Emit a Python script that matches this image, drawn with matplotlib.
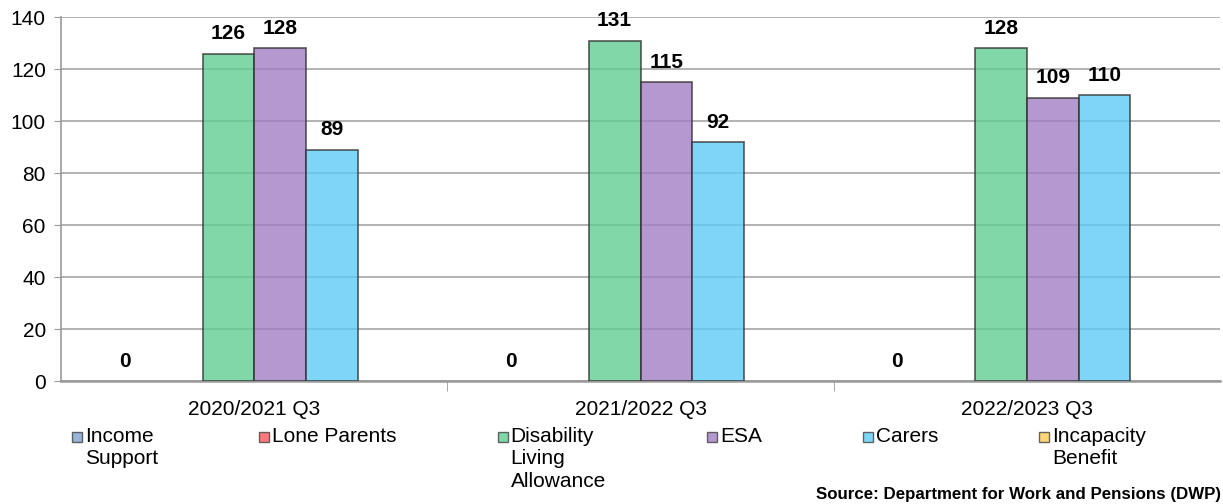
import numpy as np
import matplotlib
matplotlib.use('Agg')
import matplotlib.pyplot as plt
from matplotlib.patches import Rectangle

# Values
periods = ['2020/2021 Q3', '2021/2022 Q3', '2022/2023 Q3']
series = ['Income Support', 'Lone Parents', 'Disability Living Allowance',
          'ESA', 'Carers', 'Incapacity Benefit']
legend_labels = ['Income\nSupport', 'Lone Parents', 'Disability\nLiving\nAllowance',
                 'ESA', 'Carers', 'Incapacity\nBenefit']
income_support = [0, 0, 0]
lone_parents = [None, None, None]
dla = [126, 131, 128]
esa = [128, 115, 109]
carers = [89, 92, 110]
incapacity = [None, None, None]
values = [income_support, lone_parents, dla, esa, carers, incapacity]

# base colours, drawn with alpha so the grid shows through like the original
colors = ['#7FA3D0', '#FF5A5A', '#63CE92', '#A27EC3', '#5FCBF6', '#FFCC55']
alpha = 0.8

plt.rcParams['font.family'] = ['Liberation Sans', 'DejaVu Sans']

fig = plt.figure(figsize=(12.23, 5.04), dpi=100)
ax = fig.add_axes([0.05, 0.244, 0.9475, 0.722])

x = np.arange(len(periods))
width = 0.134
for i, (name, vals) in enumerate(zip(series, values)):
    offs = (i - 2.5) * width
    for xi, v in zip(x, vals):
        if v is None:
            continue
        ax.bar(xi + offs, v, width, color=colors[i], alpha=alpha,
               edgecolor='#303030', linewidth=1.2 if v > 0 else 0, zorder=3)
        ax.text(xi + offs, v + 4, '%d' % v, ha='center', va='bottom',
                fontsize=15, fontweight='bold', zorder=4)

ax.set_xlim(-0.5, 2.5)
ax.set_ylim(0, 140)
ax.set_yticks(range(0, 141, 20))
ax.tick_params(axis='y', labelsize=15, length=5, color='#999999', pad=6)
ax.set_xticks(x)
ax.set_xticklabels(periods, fontsize=15)
ax.tick_params(axis='x', length=0, pad=14)
ax.set_xticks([0.5, 1.5], minor=True)
ax.tick_params(axis='x', which='minor', length=7, color='#999999')
ax.yaxis.grid(True, color='#a6a6a6', linewidth=1.2, zorder=0)
ax.set_axisbelow(True)
for s in ['top', 'right']:
    ax.spines[s].set_visible(False)
ax.spines['left'].set_color('#999999')
ax.spines['bottom'].set_color('#999999')
ax.spines['left'].set_linewidth(1.2)
ax.spines['bottom'].set_linewidth(1.8)

# legend laid out by hand, Excel style (square at first line, wrapped labels)
fig.canvas.draw()
renderer = fig.canvas.get_renderer()
W, H = fig.get_size_inches() * fig.dpi
xpos = 72
ytop = 427
sq = 10
for lab, c in zip(legend_labels, colors):
    fig.patches.append(Rectangle((xpos / W, 1 - (ytop + 15) / H), sq / W, sq / H,
                                 transform=fig.transFigure, facecolor=c,
                                 alpha=alpha, edgecolor='#404040', linewidth=1))
    t = fig.text((xpos + sq + 3) / W, 1 - ytop / H, lab, fontsize=15,
                 ha='left', va='top', linespacing=1.22)
    tw = t.get_window_extent(renderer).width
    xpos = xpos + sq + 3 + tw + 101

fig.text(0.998, 0.004, 'Source: Department for Work and Pensions (DWP)',
         ha='right', va='bottom', fontsize=12.2, fontweight='bold')

fig.savefig('out.png', dpi=100)
